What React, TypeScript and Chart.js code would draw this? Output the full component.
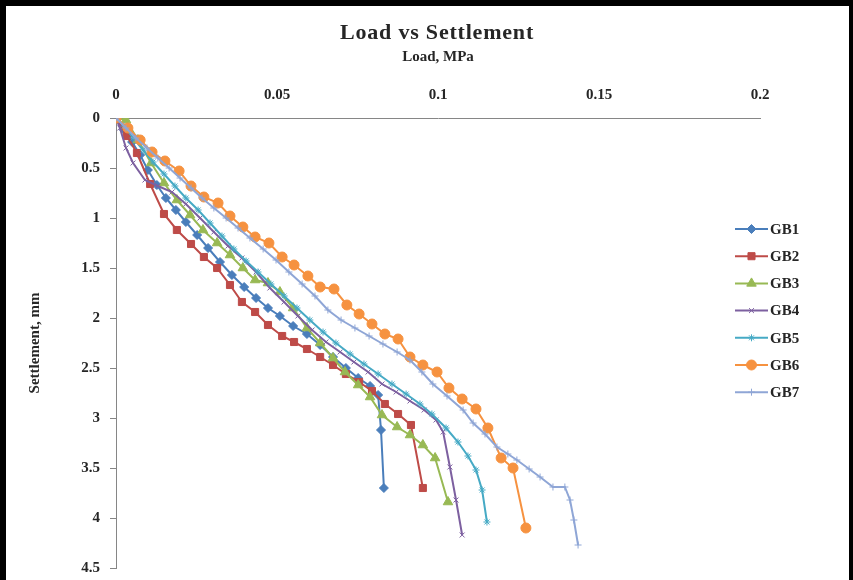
import React, { useEffect, useRef } from "react";
import { Chart, registerables } from "chart.js";
import { drawPoint } from "chart.js/helpers";

Chart.register(...registerables);

const chartTitle = "Load vs Settlement";
const xTitle = "Load, MPa";
const yTitle = "Settlement, mm";
const seriesNames = ["GB1", "GB2", "GB3", "GB4", "GB5", "GB6", "GB7"];
const seriesColors = ["#4A7EBB", "#BE4B48", "#98B954", "#7D60A0", "#46AAC5", "#F69240", "#8FA6D6"];
const seriesMarkers = ["rectRot", "rect", "triangle", "crossRot", "star", "circle", "cross"];
const seriesMarkerRadius = [4.5, 5, 5.5, 3.5, 3.5, 5, 3.5];

const gb1Load = [0, 0.0025, 0.005, 0.0075, 0.0099, 0.0127, 0.0155, 0.0186, 0.0217, 0.0252, 0.0286, 0.0323, 0.036, 0.0398, 0.0435, 0.0472, 0.0509, 0.055, 0.0593, 0.0634, 0.0674, 0.0714, 0.0752, 0.0789, 0.0814, 0.0823, 0.0832];
const gb1Settle = [0, 0.12, 0.24, 0.37, 0.52, 0.67, 0.8, 0.92, 1.04, 1.17, 1.3, 1.44, 1.57, 1.69, 1.8, 1.9, 1.98, 2.08, 2.16, 2.27, 2.39, 2.5, 2.6, 2.68, 2.77, 3.12, 3.7];

const gb2Load = [0, 0.0034, 0.0065, 0.0106, 0.0149, 0.0189, 0.0233, 0.0273, 0.0314, 0.0354, 0.0391, 0.0432, 0.0472, 0.0516, 0.0553, 0.0593, 0.0634, 0.0674, 0.0714, 0.0755, 0.0795, 0.0835, 0.0876, 0.0916, 0.0953];
const gb2Settle = [0, 0.18, 0.35, 0.66, 0.96, 1.12, 1.26, 1.39, 1.5, 1.67, 1.84, 1.94, 2.07, 2.18, 2.24, 2.31, 2.39, 2.47, 2.56, 2.64, 2.73, 2.86, 2.96, 3.07, 3.7];

const gb3Load = [0, 0.0031, 0.0068, 0.0109, 0.0149, 0.0189, 0.023, 0.027, 0.0314, 0.0354, 0.0394, 0.0432, 0.0472, 0.0509, 0.055, 0.0593, 0.0634, 0.0674, 0.0711, 0.0752, 0.0789, 0.0826, 0.0873, 0.0913, 0.0953, 0.0991, 0.1031];
const gb3Settle = [0, 0.02, 0.22, 0.45, 0.65, 0.82, 0.97, 1.12, 1.25, 1.37, 1.5, 1.62, 1.65, 1.74, 1.9, 2.1, 2.25, 2.4, 2.54, 2.67, 2.79, 2.97, 3.09, 3.17, 3.27, 3.4, 3.84];

const gb4Load = [0, 0.0012, 0.0031, 0.0053, 0.009, 0.013, 0.0174, 0.0217, 0.0261, 0.0304, 0.0348, 0.0391, 0.0435, 0.0478, 0.0522, 0.0565, 0.0609, 0.0652, 0.0696, 0.0739, 0.0783, 0.0826, 0.087, 0.0913, 0.0957, 0.0994, 0.1016, 0.1037, 0.1056, 0.1075];
const gb4Settle = [0, 0.1, 0.3, 0.45, 0.62, 0.68, 0.74, 0.86, 1.0, 1.14, 1.28, 1.4, 1.54, 1.7, 1.84, 1.98, 2.12, 2.24, 2.34, 2.44, 2.54, 2.66, 2.74, 2.83, 2.92, 3.02, 3.14, 3.49, 3.82, 4.17];

const gb5Load = [0, 0.0025, 0.0053, 0.0084, 0.0115, 0.0149, 0.0183, 0.0217, 0.0255, 0.0292, 0.0329, 0.0366, 0.0404, 0.0441, 0.0481, 0.0522, 0.0562, 0.0602, 0.0643, 0.0683, 0.0727, 0.077, 0.0814, 0.0857, 0.0901, 0.0944, 0.0981, 0.1025, 0.1062, 0.1093, 0.1118, 0.1137, 0.1152];
const gb5Settle = [0, 0.08, 0.2, 0.32, 0.44, 0.56, 0.68, 0.8, 0.92, 1.05, 1.18, 1.31, 1.43, 1.54, 1.66, 1.78, 1.9, 2.02, 2.14, 2.25, 2.36, 2.46, 2.56, 2.66, 2.76, 2.86, 2.96, 3.1, 3.24, 3.38, 3.52, 3.72, 4.04];

const gb6Load = [0, 0.0037, 0.0075, 0.0112, 0.0152, 0.0196, 0.0233, 0.0273, 0.0317, 0.0354, 0.0394, 0.0432, 0.0475, 0.0516, 0.0553, 0.0596, 0.0634, 0.0677, 0.0717, 0.0755, 0.0795, 0.0835, 0.0876, 0.0913, 0.0953, 0.0997, 0.1034, 0.1075, 0.1118, 0.1155, 0.1196, 0.1233, 0.1273];
const gb6Settle = [0, 0.1, 0.22, 0.34, 0.43, 0.53, 0.68, 0.79, 0.85, 0.98, 1.09, 1.19, 1.25, 1.39, 1.47, 1.58, 1.69, 1.71, 1.87, 1.96, 2.06, 2.16, 2.21, 2.39, 2.47, 2.54, 2.7, 2.81, 2.91, 3.1, 3.4, 3.5, 4.1];

const gb7Load = [0, 0.0031, 0.0062, 0.0096, 0.013, 0.0165, 0.0199, 0.0233, 0.0267, 0.0304, 0.0342, 0.0379, 0.0416, 0.0457, 0.0497, 0.0537, 0.0578, 0.0618, 0.0658, 0.0699, 0.0742, 0.0786, 0.0829, 0.0873, 0.0913, 0.095, 0.0984, 0.1028, 0.1078, 0.1109, 0.1146, 0.1183, 0.1217, 0.1245, 0.1283, 0.1317, 0.1357, 0.1394, 0.141, 0.1422, 0.1435];
const gb7Settle = [0, 0.1, 0.2, 0.3, 0.4, 0.5, 0.6, 0.7, 0.8, 0.9, 1.0, 1.1, 1.2, 1.31, 1.42, 1.54, 1.66, 1.78, 1.92, 2.02, 2.1, 2.18, 2.26, 2.34, 2.42, 2.54, 2.66, 2.78, 2.92, 3.05, 3.16, 3.29, 3.36, 3.42, 3.51, 3.59, 3.69, 3.69, 3.82, 4.02, 4.27];

const seriesLoads = [gb1Load, gb2Load, gb3Load, gb4Load, gb5Load, gb6Load, gb7Load];
const seriesSettles = [gb1Settle, gb2Settle, gb3Settle, gb4Settle, gb5Settle, gb6Settle, gb7Settle];

const xMin = 0;
const xMax = 0.2;
const xStep = 0.05;
const yMin = 0;
const yMax = 4.5;
const yStep = 0.5;

const SERIF = '"Liberation Serif", "Times New Roman", serif';
const TEXT_COLOR = "#262626";

const fmt = (v: any) => String(parseFloat(Number(v).toFixed(3)));

const overlayPlugin = {
  id: "overlayText",
  afterDraw(chart: any) {
    const ctx = chart.ctx as CanvasRenderingContext2D;
    ctx.save();
    ctx.fillStyle = TEXT_COLOR;
    ctx.font = `bold 22px ${SERIF}`;
    (ctx as any).letterSpacing = "0.8px";
    ctx.textAlign = "center";
    ctx.textBaseline = "middle";
    ctx.fillText(chartTitle, 437, 33);
    (ctx as any).letterSpacing = "0px";
    const lx0 = 735;
    const lx1 = 768;
    const ly0 = 229;
    const dy = 27.2;
    chart.data.datasets.forEach((ds: any, i: number) => {
      const y = ly0 + i * dy;
      ctx.strokeStyle = ds.borderColor;
      ctx.lineWidth = 2;
      ctx.beginPath();
      ctx.moveTo(lx0, y);
      ctx.lineTo(lx1, y);
      ctx.stroke();
      ctx.fillStyle = ds.pointBackgroundColor;
      ctx.strokeStyle = ds.pointBorderColor;
      ctx.lineWidth = ds.pointBorderWidth;
      drawPoint(ctx, { pointStyle: ds.pointStyle, radius: ds.pointRadius, rotation: 0, borderWidth: ds.pointBorderWidth }, (lx0 + lx1) / 2, y);
      ctx.fillStyle = TEXT_COLOR;
      ctx.font = `bold 15px ${SERIF}`;
      ctx.textAlign = "left";
      ctx.textBaseline = "middle";
      ctx.fillText(ds.label, lx1 + 2, y + 1);
    });
    ctx.restore();
  },
};

export default function App() {
  const canvasRef = useRef<HTMLCanvasElement | null>(null);

  useEffect(() => {
    const canvas = canvasRef.current;
    if (!canvas) return;
    const datasets = seriesNames.map((name, i) => ({
      label: name,
      data: seriesLoads[i].map((x, k) => ({ x, y: seriesSettles[i][k] })),
      borderColor: seriesColors[i],
      backgroundColor: seriesColors[i],
      pointBackgroundColor: seriesColors[i],
      pointBorderColor: seriesColors[i],
      pointBorderWidth: 1,
      pointStyle: seriesMarkers[i],
      pointRadius: seriesMarkerRadius[i],
      borderWidth: 2,
      showLine: true,
      fill: false,
      tension: 0,
      order: seriesNames.length - i,
    }));

    const chart = new Chart(canvas, {
      type: "scatter",
      data: { datasets },
      options: {
        responsive: false,
        animation: false,
        devicePixelRatio: 1,
        layout: { padding: { left: 10, top: 40, right: 93, bottom: 12 } },
        plugins: {
          legend: { display: false },
          title: { display: false },
          tooltip: { enabled: false },
        },
        scales: {
          x: {
            type: "linear",
            position: "top",
            min: xMin,
            max: xMax,
            ticks: {
              stepSize: xStep,
              color: TEXT_COLOR,
              font: { family: SERIF, size: 15, weight: "bold" },
              padding: 14,
              maxRotation: 0,
              callback: (v: any) => fmt(v),
            },
            grid: { display: true, drawOnChartArea: false, drawTicks: false, color: "#868686" },
            border: { display: true, color: "#868686", width: 1 },
            title: {
              display: true,
              text: xTitle,
              color: TEXT_COLOR,
              font: { family: SERIF, size: 15, weight: "bold" },
              padding: { top: 8, bottom: 0 },
            },
            afterFit: (scale: any) => {
              scale.height = 78;
              scale.paddingLeft = 0;
              scale.paddingRight = 0;
            },
          },
          y: {
            type: "linear",
            position: "left",
            reverse: true,
            min: yMin,
            max: yMax,
            ticks: {
              stepSize: yStep,
              color: TEXT_COLOR,
              font: { family: SERIF, size: 15, weight: "bold" },
              padding: 10,
              callback: (v: any) => fmt(v),
            },
            grid: { display: true, drawOnChartArea: false, drawTicks: true, tickLength: 6, color: "#868686" },
            border: { display: true, color: "#868686", width: 1 },
            title: {
              display: true,
              text: yTitle,
              color: TEXT_COLOR,
              font: { family: SERIF, size: 15, weight: "bold" },
              padding: { top: 16, bottom: 0 },
            },
            afterFit: (scale: any) => {
              scale.width = 106;
              scale.paddingTop = 0;
              scale.paddingBottom = 0;
            },
          },
        },
      },
      plugins: [overlayPlugin],
    });
    return () => chart.destroy();
  }, []);

  return (
    <div style={{ position: "absolute", left: 0, top: 0, width: 853, height: 580, background: "#fff", overflow: "hidden" }}>
      <canvas ref={canvasRef} width={853} height={580} style={{ position: "absolute", left: 0, top: 0, width: 853, height: 580 }} />
      <div
        style={{
          position: "absolute",
          left: 0,
          top: 0,
          width: 853,
          height: 580,
          boxSizing: "border-box",
          borderTop: "6px solid #000",
          borderLeft: "6px solid #000",
          borderRight: "4px solid #000",
          pointerEvents: "none",
        }}
      />
    </div>
  );
}
